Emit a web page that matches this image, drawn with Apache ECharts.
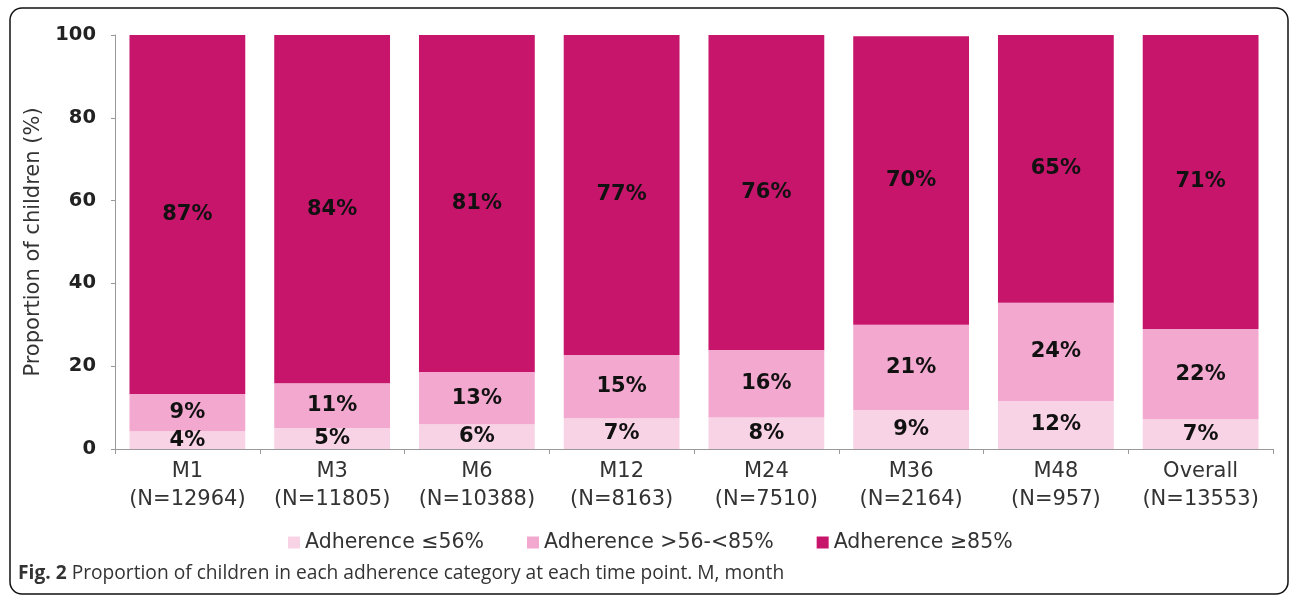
<!DOCTYPE html>
<html>
<head>
<meta charset="utf-8">
<script src="https://cdn.jsdelivr.net/npm/echarts@6/dist/echarts.min.js"></script>
<style>
  html, body { margin: 0; padding: 0; background: #fff; }
  #chart { width: 1292px; height: 597px; }
</style>
</head>
<body>
<div id="chart"></div>
<script>
// categories and series values (percent of children)
var categories = ['M1\n(N=12964)', 'M3\n(N=11805)', 'M6\n(N=10388)', 'M12\n(N=8163)',
  'M24\n(N=7510)', 'M36\n(N=2164)', 'M48\n(N=957)', 'Overall\n(N=13553)']
var low = [4.3, 5.1, 6.0, 7.4, 7.6, 9.4, 11.6, 7.2]
var mid = [9.0, 10.8, 12.6, 15.3, 16.3, 20.6, 23.7, 21.8]
var high = [86.7, 84.1, 81.4, 77.3, 76.1, 69.7, 64.7, 71.0]
var seriesNames = ['Adherence \u226456%', 'Adherence >56-<85%', 'Adherence \u226585%']
var yTicks = [0, 20, 40, 60, 80, 100]

var font = 'DejaVu Sans'
var myChart = echarts.init(document.getElementById('chart'))

function makeSeries(name, data, color) {
  return {
    name: name,
    type: 'bar',
    stack: 'total',
    data: data,
    barCategoryGap: '20%',
    itemStyle: { color: color },
    label: {
      show: true,
      position: 'inside',
      formatter: function (p) { return Math.round(p.value) + '%' },
      fontFamily: font,
      fontWeight: 'bold',
      fontSize: 21,
      color: '#111',
    },
  }
}

var option = {
  animation: false,
  textStyle: { fontFamily: font },
  grid: { left: 115, right: 19, top: 35, bottom: 148 },
  legend: {
    data: seriesNames,
    left: 283,
    top: 527,
    itemWidth: 12,
    itemHeight: 12,
    itemGap: 43,
    icon: 'rect',
    textStyle: { fontFamily: font, fontSize: 20.5, color: '#333' },
  },
  xAxis: {
    type: 'category',
    data: categories,
    axisLine: { lineStyle: { color: '#999' } },
    axisTick: { show: true, length: 5, lineStyle: { color: '#999' } },
    axisLabel: { interval: 0, fontFamily: font, fontSize: 21, color: '#333', lineHeight: 28, margin: 9 },
  },
  yAxis: {
    type: 'value',
    min: yTicks[0],
    max: yTicks[yTicks.length - 1],
    interval: 20,
    name: 'Proportion of children (%)',
    nameLocation: 'middle',
    nameGap: 63,
    nameTextStyle: { fontFamily: font, fontSize: 21, color: '#333' },
    axisLine: { show: true, lineStyle: { color: '#999' } },
    axisTick: { show: true, length: 4, lineStyle: { color: '#999' } },
    splitLine: { show: false },
    axisLabel: { fontFamily: font, fontSize: 19.5, fontWeight: 'bold', color: '#222', margin: 19 },
  },
  graphic: [
    {
      type: 'rect',
      shape: { x: 10, y: 8, width: 1278, height: 586, r: 12 },
      style: { fill: 'none', stroke: '#111', lineWidth: 1.5 },
      z: -1,
    },
    {
      type: 'text',
      left: 18,
      top: 564,
      style: {
        text: '{b|Fig. 2} Proportion of children in each adherence category at each time point. M, month',
        fontFamily: 'Open Sans',
        fontSize: 19.2,
        fill: '#333',
        rich: {
          b: { fontFamily: 'Open Sans', fontSize: 19.2, fontWeight: 'bold', fill: '#333' },
        },
      },
    },
  ],
  series: [
    makeSeries(seriesNames[0], low, '#f8d3e5'),
    makeSeries(seriesNames[1], mid, '#f3a9cf'),
    makeSeries(seriesNames[2], high, '#c8156c'),
  ],
}
myChart.setOption(option)
</script>
</body>
</html>
